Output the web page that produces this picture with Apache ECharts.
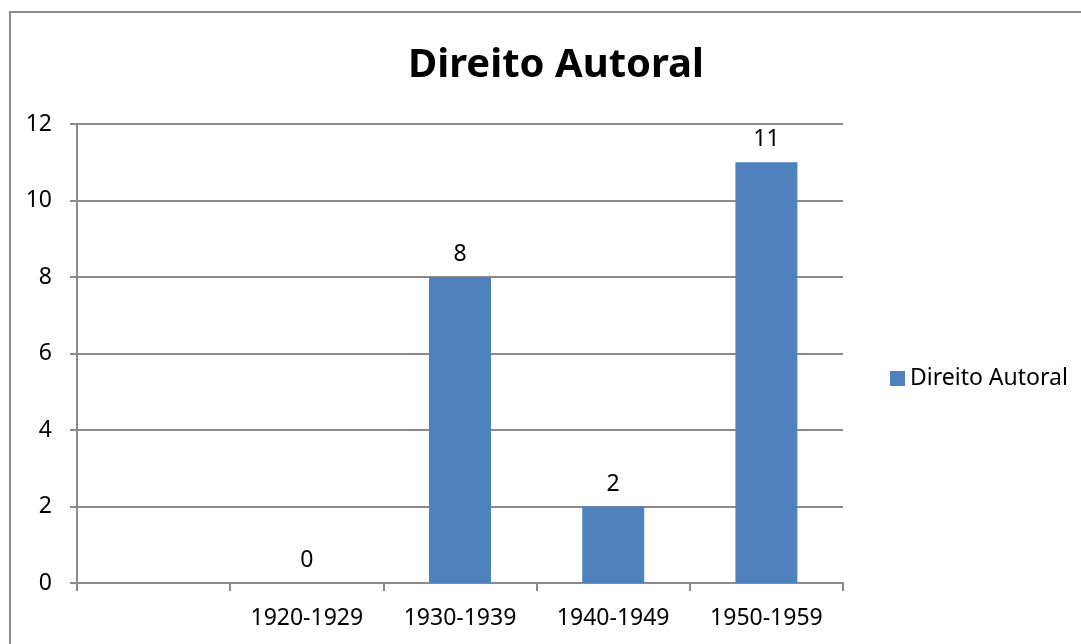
<!DOCTYPE html>
<html>
<head>
<meta charset="utf-8">
<title>Direito Autoral</title>
<script src="https://cdn.jsdelivr.net/npm/echarts@6/dist/echarts.min.js"></script>
<style>
  html, body { margin: 0; padding: 0; background: #fff; }
  #chart { width: 1081px; height: 644px; }
</style>
</head>
<body>
<div id="chart"></div>
<script>
  // categories (first slot is empty in the original)
  const categories = ['', '1920-1929', '1930-1939', '1940-1949', '1950-1959']
  const seriesName = 'Direito Autoral'
  const values = [null, 0, 8, 2, 11]
  const yTicks = [0, 2, 4, 6, 8, 10, 12]

  const fontFamily = '"Noto Sans", sans-serif'
  const gray = '#8a8a8a'

  const chart = echarts.init(document.getElementById('chart'))
  chart.setOption({
    animation: false,
    textStyle: { fontFamily: fontFamily },
    title: {
      text: 'Direito Autoral',
      left: 551,
      textAlign: 'center',
      top: 41,
      textStyle: { fontFamily: fontFamily, fontSize: 40, fontWeight: 'bold', color: '#000' },
    },
    graphic: [
      {
        // chart frame: only its top and left edges are inside the picture
        type: 'polyline',
        shape: { points: [[10, 700], [10, 12], [1200, 12]] },
        style: { fill: null, stroke: gray, lineWidth: 2 },
        silent: true,
      },
    ],
    legend: {
      data: [seriesName],
      left: 885,
      top: 362,
      icon: 'rect',
      itemWidth: 15,
      itemHeight: 15,
      textStyle: { fontFamily: fontFamily, fontSize: 23, color: '#000', padding: [0, 0, 0, 0] },
    },
    grid: { left: 77, right: 238, top: 124, bottom: 61, containLabel: false },
    xAxis: {
      type: 'category',
      data: categories,
      boundaryGap: true,
      axisLine: { lineStyle: { color: gray, width: 2 } },
      axisTick: { show: true, length: 8, lineStyle: { color: gray, width: 2 } },
      axisLabel: { color: '#000', fontSize: 23, margin: 24, fontFamily: fontFamily },
    },
    yAxis: {
      type: 'value',
      min: yTicks[0],
      max: yTicks[yTicks.length - 1],
      interval: 2,
      axisLine: { show: true, lineStyle: { color: gray, width: 2 } },
      axisTick: { show: true, length: 7, lineStyle: { color: gray, width: 2 } },
      axisLabel: { color: '#000', fontSize: 23, margin: 25, fontFamily: fontFamily },
      splitLine: { show: true, lineStyle: { color: gray, width: 2 } },
    },
    series: [
      {
        name: seriesName,
        type: 'bar',
        data: values,
        barWidth: 62,
        itemStyle: { color: '#4F81BD' },
        label: {
          show: true,
          position: 'top',
          distance: 11,
          color: '#000',
          fontSize: 23,
          fontFamily: fontFamily,
        },
      },
    ],
  })
</script>
</body>
</html>
